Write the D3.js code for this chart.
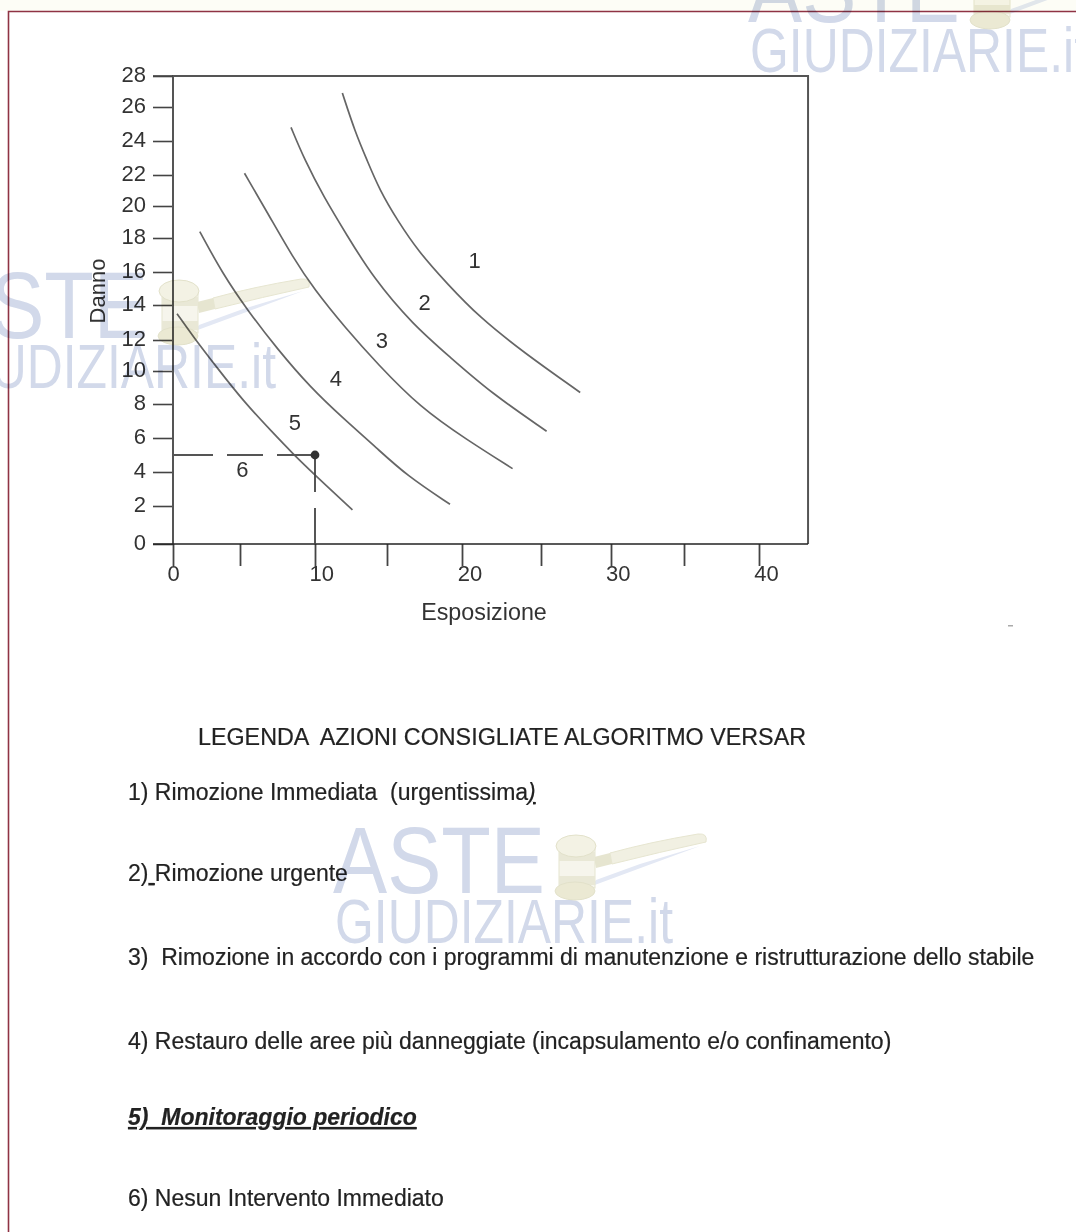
<!DOCTYPE html>
<html lang="en">
  <head>
    <title>Algoritmo Versar</title>
    <meta charset="utf-8" />
    <script src="https://cdnjs.cloudflare.com/ajax/libs/d3/7.8.5/d3.min.js"></script>
    <style>
      html, body { margin: 0; padding: 0; background: #fff; }
      svg { display: block; font-family: "Liberation Sans", Arial, sans-serif; filter: blur(0.6px); }
      text { fill: #333; white-space: pre; }
      .row, .title { fill: #222; stroke: #222; stroke-width: 0.2; }
    </style>
  </head>
  <body>
    <svg id="chart" width="1076" height="1232" viewBox="0 0 1076 1232"></svg>
    <script>
      // Axis ticks
      const xTicks = [0, 5, 10, 15, 20, 25, 30, 35, 40];
      const xTickLabels = [0, 10, 20, 30, 40];
      const yTicks = [0, 2, 4, 6, 8, 10, 12, 14, 16, 18, 20, 22, 24, 26, 28];
      const xMax = 43.27;

      // Curves, [esposizione, danno]
      const curve1 = [[11.9, 26.9], [12.8, 24.5], [13.6, 22.9], [14.5, 21.0], [15.7, 19.1], [17.1, 17.2], [19.0, 15.3], [21.1, 13.3], [23.9, 11.2], [27.8, 8.7]];
      const curve2 = [[8.4, 24.8], [9.3, 22.9], [10.6, 20.6], [12.2, 18.2], [14.0, 15.7], [16.7, 12.9], [19.2, 10.9], [21.8, 8.7], [25.4, 6.4]];
      const curve3 = [[5.3, 22.1], [7.0, 19.3], [8.5, 16.9], [9.9, 15.0], [12.2, 12.6], [14.3, 10.5], [17.2, 7.8], [20.3, 5.9], [23.2, 4.2]];
      const curve4 = [[2.0, 18.4], [3.7, 15.9], [5.5, 13.7], [7.5, 11.4], [9.7, 9.0], [11.9, 7.2], [14.3, 5.4], [16.3, 3.8], [19.2, 2.1]];
      const curve5 = [[0.3, 13.5], [1.5, 12.2], [3.3, 10.2], [5.2, 8.2], [7.2, 6.3], [8.5, 5.1], [9.9, 3.9], [12.6, 1.8]];
      const curves = [curve1, curve2, curve3, curve4, curve5];

      // Zone numbers inside the chart
      const zoneNames = ["1", "2", "3", "4", "5", "6"];
      const zoneX = [20.8, 17.5, 14.65, 11.45, 8.65, 5.15];
      const zoneY = [16.7, 14.2, 12.0, 9.6, 6.95, 4.2];

      // Marked example point
      const pointX = 10;
      const pointY = 5;

      const legendTitle = "LEGENDA  AZIONI CONSIGLIATE ALGORITMO VERSAR";
      const legendRows = [
        [["1) Rimozione Immediata  (urgentissima", ""], [")", "u i"]],
        [["2)", ""], [" ", "u"], ["Rimozione urgente", ""]],
        [["3)  Rimozione in accordo con i programmi di manutenzione e ristrutturazione dello stabile", ""]],
        [["4) Restauro delle aree più danneggiate (incapsulamento e/o confinamento)", ""]],
        [["5)  Monitoraggio periodico", "u i b"]],
        [["6) Nesun Intervento Immediato", ""]]
      ];

      const svg = d3.select("#chart");

      // The scanned axes are not quite even, so the ranges follow the drawn ticks
      const x = d3.scaleLinear()
        .domain(xTicks)
        .range([173, 240, 315, 387, 462, 541, 611, 684, 759]);
      const y = d3.scaleLinear()
        .domain(yTicks)
        .range([544, 506, 472, 438, 404, 371, 340, 305, 272, 238, 206, 175, 141, 107, 76]);
      // tick numbers on x sit on an even spacing of their own
      const xLabel = d3.scaleLinear().domain([0, 40]).range([173, 766]);

      // page border
      svg.append("rect").attr("x", 0).attr("y", 0).attr("width", 1076).attr("height", 11).attr("fill", "#fdfdf6");
      svg.append("path")
        .attr("d", "M8.5,1232V11.5H1076")
        .attr("fill", "none")
        .attr("stroke", "#8f3344")
        .attr("stroke-width", 1.6);

      // x axis
      const xAxis = svg.append("g")
        .attr("transform", `translate(0, ${y(0)})`)
        .call(d3.axisBottom(x)
          .tickValues(xTicks)
          .tickSize(22)
          .tickPadding(-1)
          .tickFormat((d) => (xTickLabels.includes(d) ? d : "")));
      xAxis.select(".domain").remove();
      xAxis.selectAll("line").attr("stroke", "#444").attr("stroke-width", 1.8);
      xAxis.selectAll("text")
        .attr("x", (d) => xLabel(d) - x(d))
        .attr("font-size", 22)
        .attr("font-family", "Liberation Sans");

      // y axis
      const yAxis = svg.append("g")
        .attr("transform", `translate(${x(0)}, 0)`)
        .call(d3.axisLeft(y).tickValues(yTicks).tickSize(20).tickPadding(7));
      yAxis.select(".domain").remove();
      yAxis.selectAll("line").attr("stroke", "#444").attr("stroke-width", 1.6);
      yAxis.selectAll("text")
        .attr("y", -2)
        .attr("font-size", 22)
        .attr("font-family", "Liberation Sans");

      // frame
      svg.append("path")
        .attr("d", `M${x(0)},${y(0)}V${y(28)}H${x(xMax)}V${y(0)}`)
        .attr("fill", "none")
        .attr("stroke", "#555")
        .attr("stroke-width", 2);
      svg.append("line")
        .attr("x1", x(0) - 20).attr("x2", x(xMax))
        .attr("y1", y(0)).attr("y2", y(0))
        .attr("stroke", "#222")
        .attr("stroke-width", 1.6);
      svg.append("line")
        .attr("x1", x(0) - 20).attr("x2", x(0))
        .attr("y1", y(28)).attr("y2", y(28))
        .attr("stroke", "#444")
        .attr("stroke-width", 1.6);

      // curves
      const line = d3.line()
        .x((d) => x(d[0]))
        .y((d) => y(d[1]))
        .curve(d3.curveBasis);

      svg.selectAll(".curve")
        .data(curves)
        .enter()
        .append("path")
        .attr("class", "curve")
        .attr("d", line)
        .attr("fill", "none")
        .attr("stroke", "#666")
        .attr("stroke-width", 1.7);

      // dashed guides to the example point
      svg.append("line")
        .attr("x1", x(0)).attr("x2", x(pointX))
        .attr("y1", y(pointY)).attr("y2", y(pointY))
        .attr("stroke", "#555").attr("stroke-width", 1.8)
        .attr("stroke-dasharray", "40 14 36 14");
      svg.append("line")
        .attr("x1", x(pointX)).attr("x2", x(pointX))
        .attr("y1", y(pointY)).attr("y2", y(0))
        .attr("stroke", "#444").attr("stroke-width", 1.8)
        .attr("stroke-dasharray", "37 16 36");
      svg.append("circle")
        .attr("cx", x(pointX)).attr("cy", y(pointY))
        .attr("r", 4.4)
        .attr("fill", "#333");

      // zone numbers
      svg.selectAll(".zone")
        .data(zoneNames)
        .enter()
        .append("text")
        .attr("class", "zone")
        .attr("x", (d, i) => x(zoneX[i]))
        .attr("y", (d, i) => y(zoneY[i]))
        .attr("dy", "0.36em")
        .attr("text-anchor", "middle")
        .attr("font-size", 22)
        .text((d) => d);

      // axis titles
      svg.append("text")
        .attr("x", 484).attr("y", 620)
        .attr("text-anchor", "middle")
        .attr("font-size", 23.3)
        .text("Esposizione");
      svg.append("text")
        .attr("transform", "translate(105, 291) rotate(-90)")
        .attr("text-anchor", "middle")
        .attr("font-size", 22)
        .text("Danno");

      // legend
      svg.append("text")
        .attr("class", "title")
        .attr("x", 198).attr("y", 745)
        .attr("font-size", 23.3)
        .text(legendTitle);

      const rowBaseline = [800, 881, 965, 1049, 1125, 1206];
      const rows = svg.selectAll(".row")
        .data(legendRows)
        .enter()
        .append("text")
        .attr("class", "row")
        .attr("x", 128)
        .attr("y", (d, i) => rowBaseline[i])
        .attr("font-size", 23);
      rows.selectAll("tspan")
        .data((d) => d)
        .enter()
        .append("tspan")
        .attr("text-decoration", (d) => (d[1].includes("u") ? "underline" : null))
        .attr("font-style", (d) => (d[1].includes("i") ? "italic" : null))
        .attr("font-weight", (d) => (d[1].includes("b") ? "bold" : null))
        .text((d) => d[0]);

      // watermark, drawn three times
      function watermark(dx, dy) {
        const g = svg.append("g")
          .attr("transform", `translate(${dx}, ${dy})`)
          .style("mix-blend-mode", "multiply");
        g.append("text")
          .attr("x", 333).attr("y", 893)
          .attr("font-size", 95)
          .attr("textLength", 212)
          .attr("lengthAdjust", "spacingAndGlyphs")
          .style("fill", "#d2d9ea")
          .text("ASTE");
        g.append("text")
          .attr("x", 335).attr("y", 943)
          .attr("font-size", 63)
          .attr("textLength", 338)
          .attr("lengthAdjust", "spacingAndGlyphs")
          .style("fill", "#d2d9ea")
          .text("GIUDIZIARIE.it");
        g.append("path")
          .attr("d", "M592,886L700,846L640,864L596,880Z")
          .attr("fill", "#e3e8f4");
        g.append("path")
          .attr("d", "M610,853Q650,842 698,834Q708,833 706,842Q660,852 612,864Z")
          .attr("fill", "#f1f0e2")
          .attr("stroke", "#e6e5d0");
        g.append("path")
          .attr("d", "M594,857L610,853L612,864L596,868Z")
          .attr("fill", "#e6e5d0");
        g.append("rect")
          .attr("x", 559).attr("y", 848).attr("width", 36).attr("height", 40)
          .attr("fill", "#f6f5ec").attr("stroke", "#e6e5d0");
        g.append("rect")
          .attr("x", 559).attr("y", 852).attr("width", 36).attr("height", 9)
          .attr("fill", "#e9e8d6");
        g.append("rect")
          .attr("x", 559).attr("y", 876).attr("width", 36).attr("height", 9)
          .attr("fill", "#e9e8d6");
        g.append("ellipse")
          .attr("cx", 576).attr("cy", 846).attr("rx", 20).attr("ry", 11)
          .attr("fill", "#f3f2e4").attr("stroke", "#e2e1ca");
        g.append("ellipse")
          .attr("cx", 575).attr("cy", 891).attr("rx", 20).attr("ry", 9)
          .attr("fill", "#ebe9d3").attr("stroke", "#e2e1ca");
      }
      watermark(0, 0);
      watermark(-397, -555);
      watermark(415, -871);

      // speck in the scan
      svg.append("rect").attr("x", 1008).attr("y", 625).attr("width", 5).attr("height", 1.5).attr("fill", "#aaa");
    </script>
  </body>
</html>
